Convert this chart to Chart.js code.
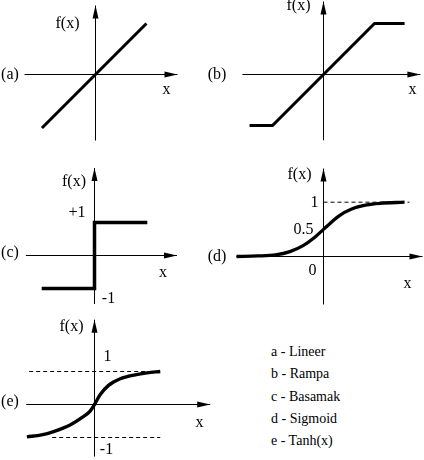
<!DOCTYPE html>
<html><head><meta charset="utf-8">
<script src="https://cdn.jsdelivr.net/npm/chart.js@4.4.1/dist/chart.umd.min.js"></script>
<style>
html,body{margin:0;padding:0;background:#fff;}
#wrap{position:relative;width:424px;height:460px;overflow:hidden;background:#fff;}
.panel{position:absolute;}
.legend{position:absolute;left:271px;font:14px "Liberation Serif",serif;color:#000;line-height:14px;white-space:nowrap;}
</style></head><body>
<div id="wrap"></div>
<script>
// ---- data (function units) ----
const linearX = [-1.03, 0.98];
const linearY = [-1.03, 0.98];
const rampX = [-1.45, -1, 1, 1.59];
const rampY = [-1, -1, 1, 1];
const stepX = [-1.6, 0, 0, 1.6];
const stepY = [-1, -1, 1, 1];
const sigmoidX = [-7.25, -5.5, -4, -2.8, -1.7, -0.75, 0, 0.5, 1.3, 2.3, 3.6, 4.7, 6.75];
const sigmoidY = [0, 0.01, 0.03, 0.09, 0.2, 0.35, 0.5, 0.6, 0.75, 0.87, 0.95, 0.98, 1.0];
const sigmoidRefX = [0, 7.17];
const sigmoidRefY = [1, 1];
const tanhX = [-2.94, -2.3, -1.78, -1.06, -0.55, -0.19, 0, 0.25, 0.61, 1.12, 1.77, 2.28, 2.86];
const tanhY = [-0.98, -0.92, -0.82, -0.62, -0.4, -0.2, 0, 0.3, 0.58, 0.78, 0.9, 0.96, 1.0];
const tanhUpperRefX = [-2.84, 2.86];
const tanhUpperRefY = [1, 1];
const tanhLowerRefX = [-1.84, 2.86];
const tanhLowerRefY = [-1, -1];
const panelTags = ['(a)', '(b)', '(c)', '(d)', '(e)'];
const legendLabels = ['a - Lineer', 'b - Rampa', 'c - Basamak', 'd - Sigmoid', 'e - Tanh(x)'];

// ---- layout ----
const panels = [
  { box: [0, 0, 212, 150], origin: [95.5, 74.5], unit: [52, 52],
    curves: [[linearX, linearY, 3]], axisX: [-1.365, 1.577], axisY: [-1.27, 1.327],
    labels: [['f(x)', -28, -51], [panelTags[0], -85.5, 0], ['x', 71, 15]] },
  { box: [196, 0, 228, 150], origin: [323.5, 74.5], unit: [51, 51],
    curves: [[rampX, rampY, 3]], axisX: [-1.59, 1.9], axisY: [-1.29, 1.43],
    labels: [['f(x)', -25, -69], [panelTags[1], -106.5, 0], ['x', 89, 15]] },
  { box: [0, 150, 212, 160], origin: [94.5, 255.5], unit: [33, 33],
    curves: [[stepX, stepY, 3.5]], axisX: [-2.08, 2.5], axisY: [-1.47, 2.65],
    labels: [['f(x)', -20.5, -73.5], ['+1', -17.5, -42.5], ['-1', 14, 43.5], [panelTags[2], -84.5, -2.5], ['x', 68.5, 17.5]] },
  { box: [196, 150, 228, 160], origin: [323.5, 256.5], unit: [12, 54.3],
    curves: [[sigmoidX, sigmoidY, 3.3, true], [sigmoidRefX, sigmoidRefY, 1, false, [4, 3]]],
    axisX: [-7.25, 8.25], axisY: [-0.884, 1.62],
    labels: [['f(x)', -24, -82], ['1', -9, -54], ['0.5', -20, -27], ['0', -11, 14], [panelTags[3], -106.5, 0], ['x', 84, 27]] },
  { box: [0, 310, 212, 150], origin: [94.5, 404.5], unit: [23, 33],
    curves: [[tanhX, tanhY, 3.4, true], [tanhUpperRefX, tanhUpperRefY, 1, false, [4, 3]], [tanhLowerRefX, tanhLowerRefY, 1, false, [4, 3]]],
    axisX: [-2.97, 5.03], axisY: [-1.58, 2.57],
    labels: [['f(x)', -23, -78], ['1', 13, -48], ['-1', 12, 45], [panelTags[4], -84.5, -3], ['x', 105, 18]] }
];

const diagramPlugin = {
  id: 'diagram',
  afterDatasetsDraw(chart, args, opts) {
    const ctx = chart.ctx;
    const xs = chart.scales.x, ys = chart.scales.y;
    const ox = xs.getPixelForValue(0), oy = ys.getPixelForValue(0);
    ctx.save();
    ctx.fillStyle = '#000';
    const tx = xs.getPixelForValue(opts.axisX[1]);
    ctx.beginPath();
    ctx.moveTo(tx, oy); ctx.lineTo(tx - 13, oy - 3); ctx.lineTo(tx - 13, oy + 3); ctx.closePath(); ctx.fill();
    const ty = ys.getPixelForValue(opts.axisY[1]);
    ctx.beginPath();
    ctx.moveTo(ox, ty); ctx.lineTo(ox - 3, ty + 13); ctx.lineTo(ox + 3, ty + 13); ctx.closePath(); ctx.fill();
    ctx.font = '16px "Liberation Serif", serif';
    ctx.textAlign = 'center';
    ctx.textBaseline = 'middle';
    opts.labels.forEach(l => ctx.fillText(l[0], ox + l[1], oy + l[2]));
    ctx.restore();
  }
};

const wrap = document.getElementById('wrap');
panels.forEach(p => {
  const [left, top, w, h] = p.box;
  const c = document.createElement('canvas');
  c.className = 'panel';
  c.width = w; c.height = h;
  c.style.left = left + 'px'; c.style.top = top + 'px';
  c.style.width = w + 'px'; c.style.height = h + 'px';
  wrap.appendChild(c);
  const [oxp, oyp] = p.origin;
  const [ux, uy] = p.unit;
  const datasets = [];
  p.curves.forEach(cv => {
    datasets.push({
      data: cv[0].map((x, i) => ({ x: x, y: cv[1][i] })),
      borderColor: '#000', borderWidth: cv[2],
      borderDash: cv[4] || [], pointRadius: 0, fill: false,
      tension: cv[3] ? 0.4 : 0, cubicInterpolationMode: cv[3] ? 'monotone' : 'default',
      borderJoinStyle: 'miter', borderCapStyle: 'butt'
    });
  });
  datasets.push({ data: [{ x: p.axisX[0], y: 0 }, { x: p.axisX[1], y: 0 }], borderColor: '#000', borderWidth: 1, pointRadius: 0, tension: 0 });
  datasets.push({ data: [{ x: 0, y: p.axisY[0] }, { x: 0, y: p.axisY[1] }], borderColor: '#000', borderWidth: 1, pointRadius: 0, tension: 0 });
  new Chart(c, {
    type: 'line',
    data: { datasets: datasets },
    options: {
      responsive: false, animation: false, devicePixelRatio: 1,
      layout: { padding: 0, autoPadding: false },
      scales: {
        x: { type: 'linear', display: false, min: (left - oxp) / ux, max: (left + w - oxp) / ux },
        y: { type: 'linear', display: false, min: (oyp - top - h) / uy, max: (oyp - top) / uy }
      },
      plugins: { legend: { display: false }, tooltip: { enabled: false },
        diagram: { axisX: p.axisX, axisY: p.axisY, labels: p.labels } }
    },
    plugins: [diagramPlugin]
  });
});

const legendCenters = [352, 374, 397, 419, 441];
legendLabels.forEach((t, i) => {
  const d = document.createElement('div');
  d.className = 'legend';
  d.style.top = (legendCenters[i] - 7) + 'px';
  d.textContent = t;
  wrap.appendChild(d);
});
</script>
</body></html>
